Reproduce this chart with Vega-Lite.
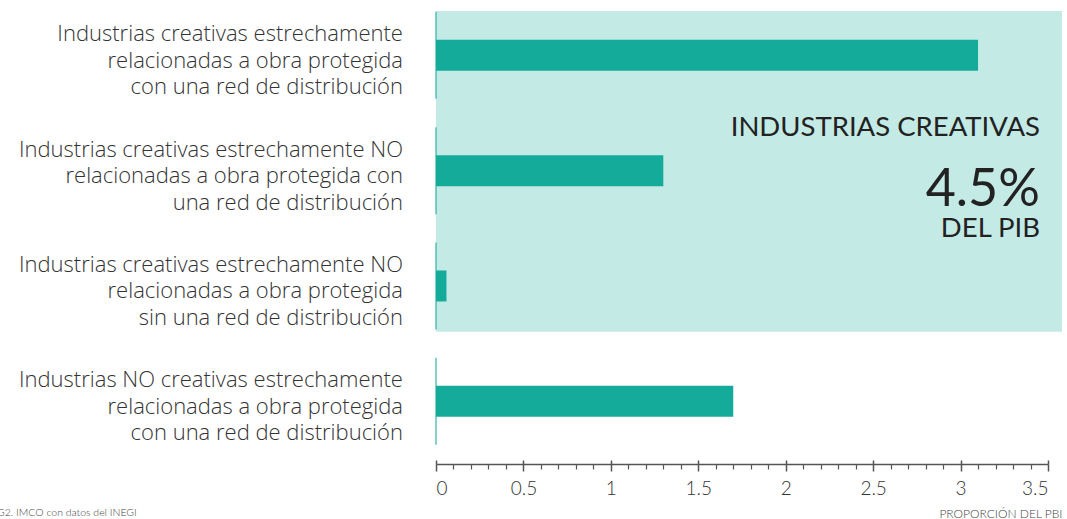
{
  "$schema": "https://vega.github.io/schema/vega-lite/v6.json",
  "width": 612,
  "height": 464,
  "autosize": {"type": "none"},
  "padding": {"left": 436, "top": 0, "right": 19, "bottom": 55},
  "background": "#ffffff",
  "config": {"view": {"stroke": null}, "font": "Lato"},
  "datasets": {
    "rows": [
      {"pos": 1, "value": 3.1, "label": "Industrias creativas estrechamente\nrelacionadas a obra protegida\ncon una red de distribución"},
      {"pos": 2, "value": 1.3, "label": "Industrias creativas estrechamente NO\nrelacionadas a obra protegida con\nuna red de distribución"},
      {"pos": 3, "value": 0.06, "label": "Industrias creativas estrechamente NO\nrelacionadas a obra protegida\nsin una red de distribución"},
      {"pos": 4, "value": 1.7, "label": "Industrias NO creativas estrechamente\nrelacionadas a obra protegida\ncon una red de distribución"}
    ]
  },
  "resolve": {"axis": {"x": "independent"}},
  "layer": [
    {
      "data": {"values": [{"x0": 0, "x1": 3.58, "y0": 0.616, "y1": 3.397}]},
      "mark": {"type": "rect", "color": "#C4EAE5"},
      "encoding": {
        "x": {"field": "x0", "type": "quantitative", "scale": {"domain": [0, 3.5], "nice": false, "zero": true, "padding": 0},
          "axis": {"orient": "bottom", "offset": 0, "values": [0.1,0.2,0.3,0.4,0.6,0.7,0.8,0.9,1.1,1.2,1.3,1.4,1.6,1.7,1.8,1.9,2.1,2.2,2.3,2.4,2.6,2.7,2.8,2.9,3.1,3.2,3.3,3.4], "labels": false, "domain": false, "grid": false, "tickSize": 5, "tickColor": "#555555", "tickWidth": 1.2, "title": null}},
        "x2": {"field": "x1"},
        "y": {"field": "y0", "type": "quantitative", "scale": {"domain": [0.5205, 4.5437], "nice": false, "zero": false, "reverse": true, "padding": 0}, "axis": null},
        "y2": {"field": "y1"}
      }
    },
    {
      "data": {"name": "rows"},
      "mark": {"type": "tick", "orient": "vertical", "size": 87, "thickness": 1.5, "color": "#14AB9B"},
      "encoding": {
        "x": {"datum": 0, "type": "quantitative",
          "axis": {"orient": "bottom", "offset": 0, "values": [0, 0.5, 1, 1.5, 2, 2.5, 3, 3.5], "labels": false, "domain": false, "grid": false, "tickSize": -4, "tickColor": "#555555", "tickWidth": 1.5, "title": null}},
        "y": {"field": "pos", "type": "quantitative"}
      }
    },
    {
      "data": {"name": "rows"},
      "mark": {"type": "bar", "orient": "horizontal", "size": 31, "color": "#14AB9B"},
      "encoding": {
        "x": {"field": "value", "type": "quantitative",
          "axis": {"orient": "bottom", "offset": 0, "values": [0, 0.5, 1, 1.5, 2, 2.5, 3, 3.5], "format": "~g", "grid": false,
            "domainColor": "#555555", "domainWidth": 1.5, "tickColor": "#555555", "tickWidth": 1.5, "tickSize": 7,
            "labelFont": "Lato", "labelFontWeight": 300, "labelFontSize": 19, "labelColor": "#333333", "labelPadding": 8,
            "title": "PROPORCIÓN DEL PBI", "titleFont": "Lato", "titleFontSize": 12, "titleFontWeight": 300, "titleColor": "#444444",
            "titleAlign": "right", "titleAnchor": null, "titleX": 626, "titleY": 49, "titleBaseline": "middle"}},
        "y": {"field": "pos", "type": "quantitative"}
      }
    },
    {
      "data": {"name": "rows"},
      "mark": {"type": "text", "align": "right", "baseline": "middle", "lineBreak": "\n", "lineHeight": 26.5, "fontSize": 22, "fontWeight": 300, "font": "Open Sans", "color": "#333333", "dy": -21},
      "encoding": {
        "x": {"datum": -0.189, "type": "quantitative", "axis": null},
        "y": {"field": "pos", "type": "quantitative"},
        "text": {"field": "label"}
      }
    },
    {
      "data": {"values": [
        {"t": "INDUSTRIAS CREATIVAS", "px": 3.454, "py": 1.6997, "fs": 27.5, "fw": 400},
        {"t": "4.5%", "px": 3.454, "py": 2.3067, "fs": 52, "fw": 300},
        {"t": "DEL PIB", "px": 3.454, "py": 2.5755, "fs": 27.5, "fw": 400}
      ]},
      "mark": {"type": "text", "align": "right", "baseline": "alphabetic", "font": "Lato", "color": "#222222"},
      "encoding": {
        "x": {"field": "px", "type": "quantitative", "axis": null},
        "y": {"field": "py", "type": "quantitative"},
        "text": {"field": "t"},
        "size": {"field": "fs", "type": "quantitative", "scale": null},
        "fontWeight": {"field": "fw", "type": "nominal", "scale": null}
      }
    },
    {
      "data": {"values": [{"t": "G2. IMCO con datos del INEGI", "px": -2.511, "py": 4.9686}]},
      "mark": {"type": "text", "align": "left", "baseline": "middle", "font": "Lato", "fontSize": 10.5, "fontWeight": 300, "color": "#444444"},
      "encoding": {
        "x": {"field": "px", "type": "quantitative", "axis": null},
        "y": {"field": "py", "type": "quantitative"},
        "text": {"field": "t"}
      }
    }
  ]
}
